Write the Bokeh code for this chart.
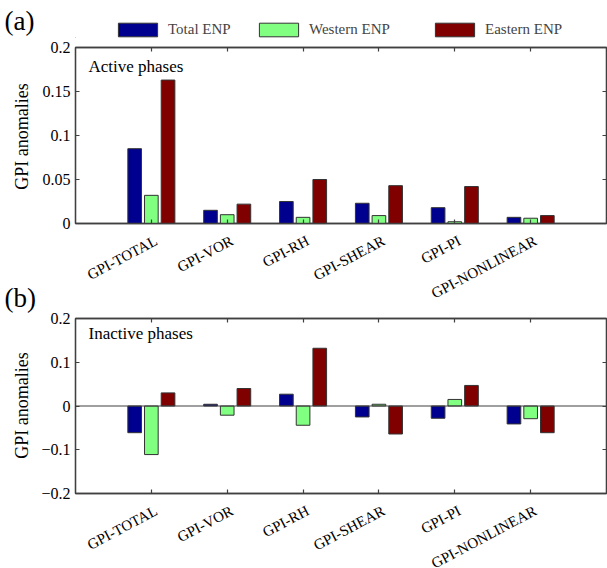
import numpy as np
from bokeh.plotting import figure
from bokeh.models import (Range1d, FixedTicker, LinearAxis, Label, Legend, LegendItem, Span)
from bokeh.layouts import column, row
from bokeh.core.properties import value
from bokeh.embed import file_html
from bokeh.resources import INLINE

categories = ["GPI-TOTAL", "GPI-VOR", "GPI-RH", "GPI-SHEAR", "GPI-PI", "GPI-NONLINEAR"]
series = ["Total ENP", "Western ENP", "Eastern ENP"]

active_total = [0.085, 0.015, 0.025, 0.023, 0.018, 0.007]
active_western = [0.032, 0.010, 0.007, 0.009, 0.002, 0.006]
active_eastern = [0.163, 0.022, 0.050, 0.043, 0.042, 0.009]

inactive_total = [-0.061, 0.004, 0.027, -0.025, -0.028, -0.041]
inactive_western = [-0.111, -0.021, -0.044, 0.004, 0.015, -0.029]
inactive_eastern = [0.030, 0.040, 0.132, -0.064, 0.047, -0.061]

active_yticks = [0, 0.05, 0.1, 0.15, 0.2]
active_ylabels = ["0", "0.05", "0.1", "0.15", "0.2"]
inactive_yticks = [-0.2, -0.1, 0, 0.1, 0.2]
inactive_ylabels = ["\u22120.2", "\u22120.1", "0", "0.1", "0.2"]

colors = ["#00008F", "#80FF80", "#800000"]
offsets = [-0.22, 0.0, 0.22]
BAR_W = 0.18
FONT = "Liberation Serif"
AXC = "#404040"
RIGHT_W = 569
LEFT_W = 38
BL = 35

xpos = list(range(1, len(categories) + 1))
xr = Range1d(0, 7)


def style_axis(ax, labels=True):
    ax.axis_line_color = AXC
    ax.axis_line_width = 1.3
    ax.major_tick_line_color = AXC
    ax.major_tick_line_width = 1.2
    ax.major_tick_in = 4
    ax.major_tick_out = 0
    ax.minor_tick_line_color = None
    ax.major_label_text_font = FONT
    if labels:
        ax.major_label_text_color = "black"
    else:
        ax.major_label_text_color = None
        ax.major_label_standoff = 0


def bare(width, height, xrange, yrange):
    p = figure(width=width, height=height, x_range=xrange, y_range=yrange,
               output_backend="svg", toolbar_location=None,
               min_border_left=0, min_border_right=0, min_border_top=0, min_border_bottom=0,
               x_axis_location=None, y_axis_location=None)
    p.grid.visible = False
    p.outline_line_color = None
    p.background_fill_color = "white"
    p.border_fill_color = "white"
    return p


def make_panel(values, yticks, ylabels, yrange, height, btop, bbot, phase_text, phase_y):
    p = figure(width=RIGHT_W, height=height, x_range=xr,
               y_range=Range1d(*yrange), output_backend="svg", toolbar_location=None,
               min_border_left=BL, min_border_right=1, min_border_top=btop,
               min_border_bottom=bbot, x_axis_location=None, y_axis_location=None)
    p.grid.visible = False
    p.outline_line_color = AXC
    p.outline_line_width = 1.3
    p.background_fill_color = "white"
    p.border_fill_color = "white"

    for vals, col, off in zip(values, colors, offsets):
        p.vbar(x=[x + off for x in xpos], top=vals, bottom=0, width=BAR_W,
               fill_color=col, line_color="#333333", line_width=1)

    if yrange[0] < 0:
        p.add_layout(Span(location=0, dimension="width", line_color=AXC, line_width=1.2))

    below = LinearAxis(ticker=FixedTicker(ticks=xpos))
    style_axis(below, labels=False)
    p.add_layout(below, "below")

    above = LinearAxis(ticker=FixedTicker(ticks=xpos))
    style_axis(above, labels=False)
    p.add_layout(above, "above")

    left = LinearAxis(ticker=FixedTicker(ticks=yticks),
                      major_label_overrides={t: l for t, l in zip(yticks, ylabels)})
    style_axis(left)
    left.major_label_text_font_size = "16px"
    left.major_label_standoff = 5
    p.add_layout(left, "left")

    right = LinearAxis(ticker=FixedTicker(ticks=yticks))
    style_axis(right, labels=False)
    p.add_layout(right, "right")

    p.add_layout(Label(x=13, y=phase_y, x_units="screen", y_units="screen", text=phase_text,
                       text_font=FONT, text_font_size="17px", text_baseline="top",
                       text_color="black"))
    return p


def label_strip(height, top_gap):
    s = figure(width=RIGHT_W, height=height, x_range=xr, y_range=Range1d(0, height),
               output_backend="svg", toolbar_location=None,
               min_border_left=BL, min_border_right=1, min_border_top=0, min_border_bottom=0,
               x_axis_location=None, y_axis_location=None)
    s.grid.visible = False
    s.outline_line_color = None
    s.background_fill_color = "white"
    s.border_fill_color = "white"
    s.text(x=xpos, y=height - top_gap, text=categories, angle=0.49, x_offset=1,
           text_align="right", text_baseline="top", text_font=value(FONT),
           text_font_size=value("15px"), text_color="black")
    return s


# legend strip (its bars hold real values but lie outside the visible x range;
# they only provide the legend swatches)
H0 = 38
p0 = bare(RIGHT_W, H0, Range1d(100, 100 + RIGHT_W), Range1d(0, H0))
leg_x = [38, 179, 355]
for name, col, vals, lx in zip(series, colors, [active_total, active_western, active_eastern], leg_x):
    r = p0.vbar(x=xpos, top=vals, width=BAR_W, fill_color=col, line_color="#333333",
                line_width=1)
    lg = Legend(items=[LegendItem(label=name, renderers=[r])], location=(lx, 0),
                orientation="horizontal", glyph_width=49, glyph_height=17,
                label_standoff=6, padding=0, margin=0, spacing=0,
                border_line_color=None, background_fill_alpha=0,
                label_text_font=FONT, label_text_font_size="15px", label_height=17)
    p0.add_layout(lg, "center")

H1, H1L, H2, H2L = 194, 77, 193, 66
p1 = make_panel([active_total, active_western, active_eastern], active_yticks, active_ylabels,
                (0, 0.2), H1, 9, 9, "Active phases", 167)
s1 = label_strip(H1L, 0)
p2 = make_panel([inactive_total, inactive_western, inactive_eastern], inactive_yticks,
                inactive_ylabels, (-0.2, 0.2), H2, 9, 9, "Inactive phases", 170)
s2 = label_strip(H2L, 0)

# left strip with panel letters and y-axis titles
TOTAL_H = H0 + H1 + H1L + H2 + H2L
pl = bare(LEFT_W, TOTAL_H, Range1d(0, LEFT_W), Range1d(0, TOTAL_H))
for t, yy in [("(a)", TOTAL_H - 5), ("(b)", TOTAL_H - 282)]:
    pl.add_layout(Label(x=4, y=yy, x_units="screen", y_units="screen", text=t,
                        text_font=FONT, text_font_size="27px", text_baseline="top",
                        text_color="black"))
for yy in [TOTAL_H - 136, TOTAL_H - 405]:
    pl.add_layout(Label(x=21, y=yy, x_units="screen", y_units="screen", text="GPI anomalies",
                        angle=np.pi / 2, text_font=FONT, text_font_size="18px",
                        text_align="center", text_baseline="middle", text_color="black"))

layout = row(pl, column(p0, p1, s1, p2, s2, spacing=0), spacing=0)
open("out.html", "w").write(file_html(layout, INLINE))
